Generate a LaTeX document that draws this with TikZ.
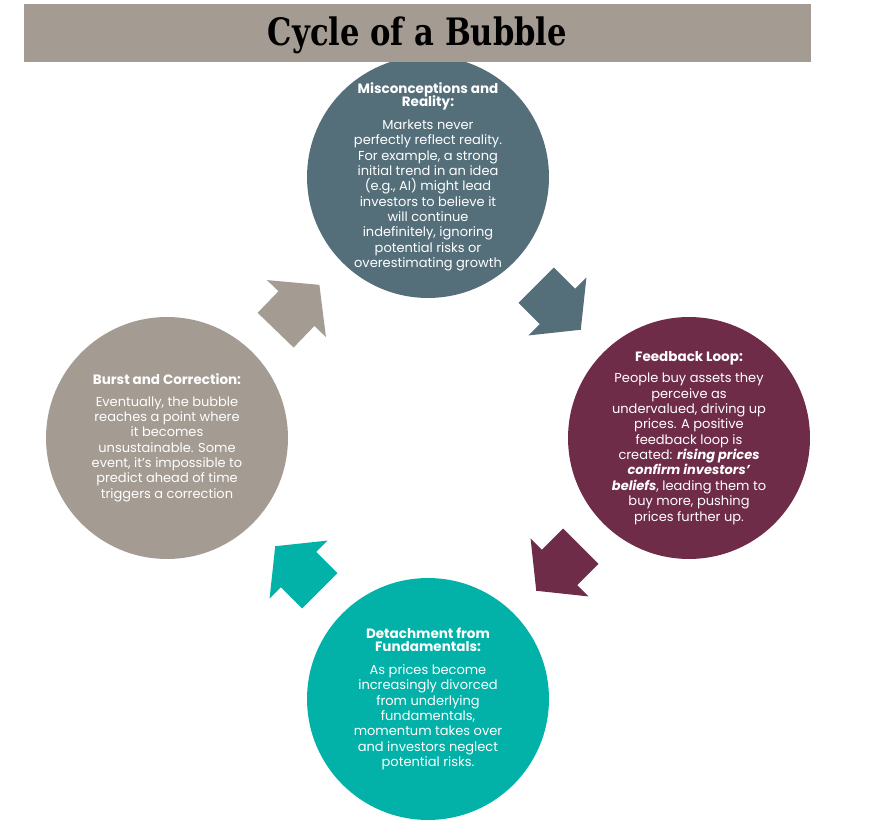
\documentclass[tikz,border=0pt]{standalone}
\usepackage{fontspec}
\setmainfont{Poppins}
\newfontfamily\titlefont{DejaVu Serif}
\usetikzlibrary{calc}

\definecolor{slate}{HTML}{546F7A}
\definecolor{plum}{HTML}{6F2C48}
\definecolor{seagreen}{HTML}{02B2A9}
\definecolor{taupe}{HTML}{A49B92}

\tikzset{
  bubble/.style={circle, fill=#1, minimum size=4.84cm, inner sep=0pt},
  bubbletext/.style={text=white, align=center, inner sep=0pt,
    font=\fontsize{7.4}{8.75}\selectfont},
  titlebar/.style={fill=taupe, minimum width=15.74cm, minimum height=1.16cm},
  titletext/.style={inner sep=0pt, font=\titlefont\bfseries\fontsize{21.5}{24}\selectfont},
  pics/turnarrow/.style={code={
    \fill[#1] (-31.5,-25) -- (-1.5,-25) -- (-1.5,-41) -- (31.5,0)
      -- (-1.5,41) -- (-1.5,25) -- (-31.5,25) -- cycle;}}
}
\newcommand{\hd}[1]{{\bfseries\fontsize{7.7}{8}\selectfont #1}}

\begin{document}
\begin{tikzpicture}[x=0.02cm, y=-0.02cm]
\useasboundingbox (0,0) rectangle (871,830);

% the four stages
\node[bubble=slate] (misc) at (428,177) {};
\node[bubble=plum] (loop) at (689,438) {};
\node[bubble=seagreen] (detach) at (428,699) {};
\node[bubble=taupe] (burst) at (167,438) {};

\node[bubbletext] (misctext) at (misc) {\hd{Misconceptions and}\\[-1.2pt]\hd{Reality:}\\[4pt]
  Markets never\\ perfectly reflect reality.\\ For example, a strong\\
  initial trend in an idea\\ (e.g., AI) might lead\\ investors to believe it\\
  will continue\\ indefinitely, ignoring\\ potential risks or\\ overestimating growth};
\node[bubbletext] (looptext) at (loop) {\hd{Feedback Loop:}\\[3.3pt]
  People buy assets they\\ perceive as\\ undervalued, driving up\\
  prices. A positive\\ feedback loop is\\ created: \textbf{\textit{rising prices}}\\
  \textbf{\textit{confirm investors'}}\\ \textbf{\textit{beliefs}}, leading them to\\
  buy more, pushing\\ prices further up.};
\node[bubbletext] (detachtext) at (detach) {\hd{Detachment from}\\[-1.2pt]\hd{Fundamentals:}\\[4pt]
  As prices become\\ increasingly divorced\\ from underlying\\ fundamentals,\\
  momentum takes over\\ and investors neglect\\ potential risks.};
\node[bubbletext] (bursttext) at (burst) {\hd{Burst and Correction:}\\[3.3pt]
  Eventually, the bubble\\ reaches a point where\\ it becomes\\
  unsustainable. Some\\ event, it's impossible to\\ predict ahead of time\\
  triggers a correction};

% arrows between the stages
\pic[rotate=-45] at ($(misc)!0.5!(loop)$) {turnarrow=slate};
\pic[rotate=-135] at ($(loop)!0.5!(detach)$) {turnarrow=plum};
\pic[rotate=135] at ($(detach)!0.5!(burst)$) {turnarrow=seagreen};
\pic[rotate=46] at ($(burst)!0.5!(misc)$) {turnarrow=taupe};

\node[titlebar] (title) at (417.5,33) {};
\node[titletext] (titletext) at ([yshift=-1.5pt]title.center) {\scalebox{0.81}[1]{Cycle of a Bubble}};
\end{tikzpicture}
\end{document}
